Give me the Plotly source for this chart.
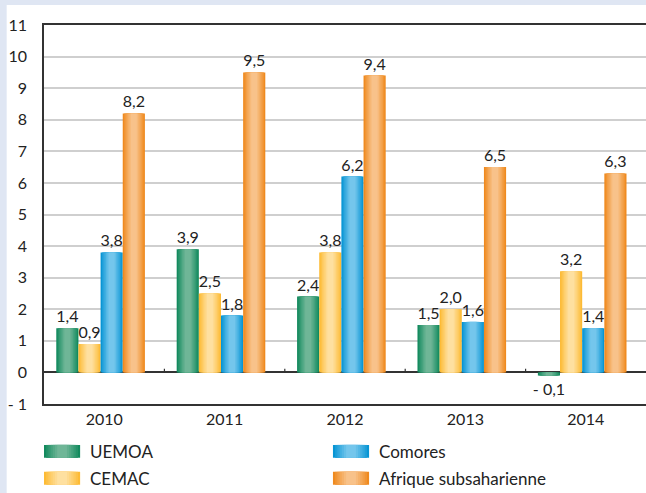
import plotly.graph_objects as go

years = ["2010", "2011", "2012", "2013", "2014"]
series_names = ["UEMOA", "CEMAC", "Comores", "Afrique subsaharienne"]
uemoa = [1.4, 3.9, 2.4, 1.5, -0.1]
cemac = [0.9, 2.5, 3.8, 2.0, 3.2]
comores = [3.8, 1.8, 6.2, 1.6, 1.4]
afrique = [8.2, 9.5, 9.4, 6.5, 6.3]
y_ticks = list(range(-1, 12))

all_values = [uemoa, cemac, comores, afrique]
dark_colors = ["#138a5e", "#fdbb35", "#0795d4", "#ef8a1f"]
light_colors = ["#6fb697", "#fee0a0", "#74c6ec", "#f8c28a"]

FONT = "Lato, 'Open Sans', sans-serif"


def fmt(v):
    s = f"{abs(v):.1f}".replace(".", ",")
    return ("- " + s) if v < 0 else s


def fmt_tick(v):
    return ("- " + str(abs(v))) if v < 0 else str(v)


def mix(c1, c2, t):
    a = [int(c1[i:i + 2], 16) for i in (1, 3, 5)]
    b = [int(c2[i:i + 2], 16) for i in (1, 3, 5)]
    return "#" + "".join(f"{round(x + (y - x) * t):02x}" for x, y in zip(a, b))


fig = go.Figure()

w = 0.184
shift = -0.03
n_layers = 7
for i, vals in enumerate(all_values):
    base_off = -2 * w + i * w + shift
    for k in range(n_layers):
        f = 1 - k * (0.85 / n_layers)
        t = (k / (n_layers - 1)) ** 0.9
        col = mix(dark_colors[i], light_colors[i], t)
        tr = dict(
            x=years, y=vals, width=w * f, offset=base_off + w * (1 - f) / 2,
            marker=dict(color=col, line=dict(width=0)),
            showlegend=False, hoverinfo="skip",
        )
        if k == 0:
            tr.update(text=[fmt(v) for v in vals], textposition="outside",
                      textfont=dict(family=FONT, size=16, color="#222222"),
                      constraintext="none", cliponaxis=False, name=series_names[i])
        fig.add_trace(go.Bar(**tr))

shapes = []
# white panel
shapes.append(dict(type="rect", xref="paper", yref="paper", x0=-0.062, x1=1.05,
                   y0=-0.4, y1=1.053, fillcolor="white", line=dict(width=0), layer="below"))
# small ticks on zero line at category boundaries
for b in range(len(years) - 1):
    shapes.append(dict(type="line", xref="x", yref="y", x0=b + 0.5, x1=b + 0.5,
                       y0=0, y1=0.12, line=dict(color="#333333", width=1.2)))

# custom legend
leg = [(0, 0.0, -0.108), (1, 0.0, -0.179), (2, 0.48, -0.108), (3, 0.48, -0.179)]
annotations = []
sw = 0.06
sh = 0.034
for idx, x0, ytop in leg:
    for k in range(n_layers):
        f = 1 - k * (0.85 / n_layers)
        t = (k / (n_layers - 1)) ** 0.9
        col = mix(dark_colors[idx], light_colors[idx], t)
        cx = x0 + sw / 2
        shapes.append(dict(type="rect", xref="paper", yref="paper",
                           x0=cx - sw * f / 2, x1=cx + sw * f / 2,
                           y0=ytop - sh, y1=ytop, fillcolor=col, line=dict(width=0)))
    annotations.append(dict(xref="paper", yref="paper", x=x0 + sw + 0.013, y=ytop - sh / 2,
                            text=series_names[idx], showarrow=False, xanchor="left",
                            yanchor="middle", font=dict(family=FONT, size=17, color="#222222")))

fig.update_layout(
    width=646, height=493,
    barmode="overlay",
    paper_bgcolor="#dfe6f3",
    plot_bgcolor="white",
    margin=dict(l=44, r=0, t=25, b=89, autoexpand=False),
    font=dict(family=FONT, color="#222222"),
    shapes=shapes,
    annotations=annotations,
    showlegend=False,
    xaxis=dict(
        type="category", range=[-0.5, 4.5], showline=True, linecolor="#333333",
        linewidth=1.5, mirror=True, ticks="", showgrid=False, automargin=False,
        tickfont=dict(family=FONT, size=16, color="#222222"),
    ),
    yaxis=dict(
        range=[-1, 11], tickvals=y_ticks, ticktext=[fmt_tick(v) for v in y_ticks],
        showline=True, linecolor="#333333", linewidth=1.5, automargin=False,
        showgrid=True, gridcolor="#cfcfcf", gridwidth=1.5,
        zeroline=True, zerolinecolor="#333333", zerolinewidth=1.5,
        ticks="", ticklabelstandoff=12,
        tickfont=dict(family=FONT, size=16, color="#222222"),
    ),
)

fig.write_html("out.html", config={"displayModeBar": False},
               post_script="document.body.style.margin='0';document.body.style.overflow='hidden';")
